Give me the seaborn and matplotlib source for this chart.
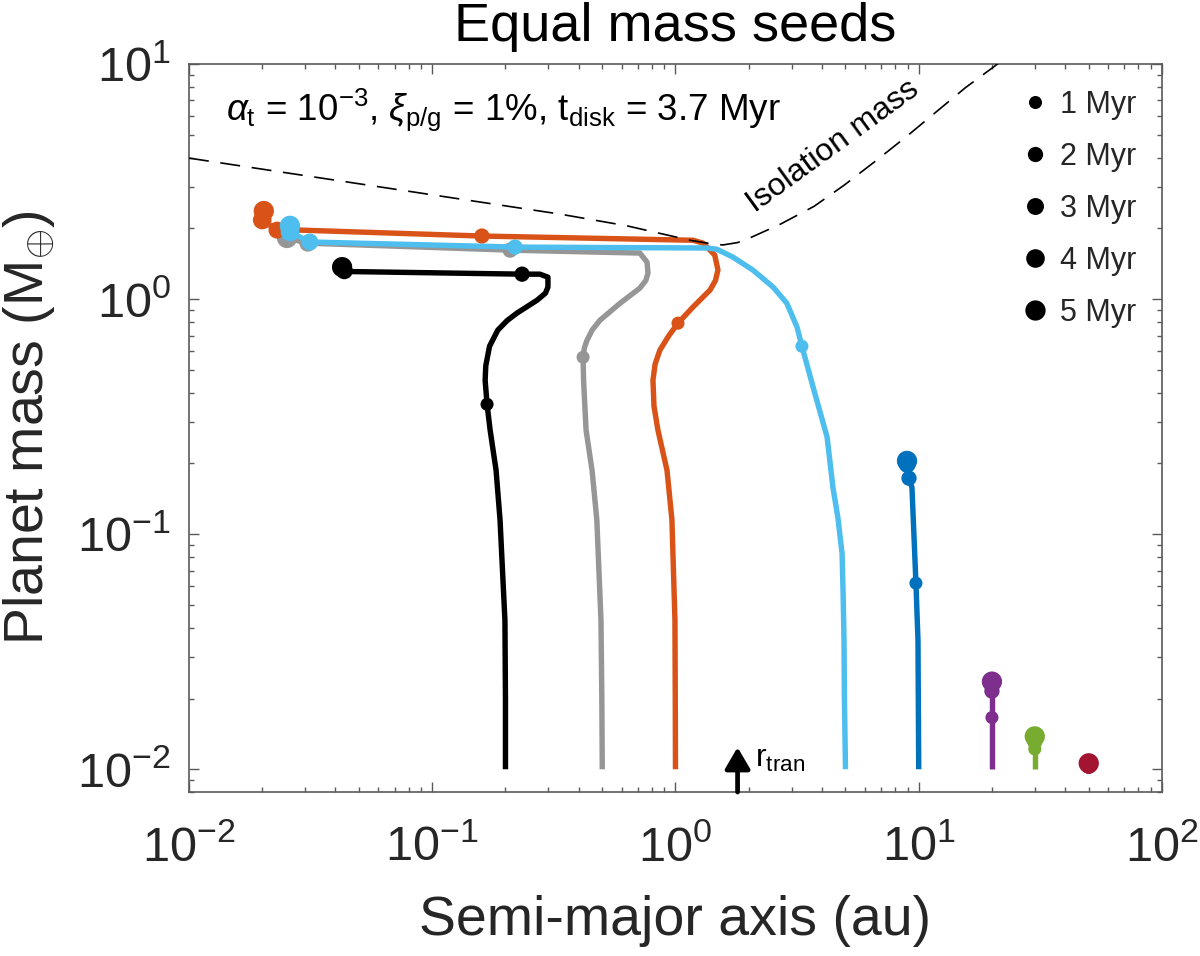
import numpy as np
import pandas as pd
import matplotlib
matplotlib.use("Agg")
import matplotlib.pyplot as plt
import seaborn as sns
from matplotlib.lines import Line2D
from matplotlib.ticker import FixedLocator, FixedFormatter, NullFormatter, LogLocator

# ---------------- data ----------------
seed_colors = ['#000000', '#969696', '#D95319', '#4DBEEE',
               '#0072BD', '#7E2F8E', '#77AC30', '#A2142F']

# growth tracks: semi-major axis (au) and mass (Earth masses)
trk_02_a = [0.200, 0.200, 0.199, 0.190, 0.183, 0.173, 0.168, 0.165, 0.166, 0.172, 0.186,
            0.203, 0.223, 0.270, 0.292, 0.299, 0.299, 0.277, 0.234, 0.046, 0.0426]
trk_02_M = [0.010, 0.020, 0.043, 0.115, 0.187, 0.277, 0.357, 0.452, 0.520, 0.630, 0.738,
            0.810, 0.872, 0.990, 1.060, 1.125, 1.240, 1.277, 1.277, 1.31, 1.368]

trk_05_a = [0.500, 0.498, 0.494, 0.475, 0.454, 0.429, 0.419, 0.417, 0.422, 0.433, 0.455, 0.490,
            0.592, 0.714, 0.755, 0.771, 0.764, 0.714, 0.209, 0.0308, 0.0253]
trk_05_M = [0.010, 0.020, 0.043, 0.115, 0.187, 0.277, 0.450, 0.566, 0.620, 0.669, 0.740, 0.814,
            0.961, 1.114, 1.200, 1.290, 1.436, 1.570, 1.616, 1.730, 1.820]

trk_1_a = [1.000, 0.998, 0.995, 0.967, 0.923, 0.847, 0.816, 0.808, 0.825, 0.863, 0.940, 1.024,
           1.180, 1.387, 1.460, 1.495, 1.450, 1.300, 1.180, 0.160, 0.0286, 0.023, 0.020, 0.0203]
trk_1_M = [0.010, 0.020, 0.043, 0.115, 0.187, 0.277, 0.350, 0.452, 0.530, 0.607, 0.700, 0.790,
           0.925, 1.093, 1.200, 1.330, 1.540, 1.730, 1.780, 1.855, 1.966, 1.966, 2.170, 2.370]

trk_5_a = [5.00, 4.95, 4.93, 4.89, 4.84, 4.65, 4.44, 4.20, 3.68, 3.31, 3.16, 2.87, 2.52,
           2.08, 1.72, 1.48, 1.35, 0.219, 0.0314, 0.026, 0.026]
trk_5_M = [0.010, 0.0197, 0.0354, 0.055, 0.083, 0.118, 0.158, 0.259, 0.422, 0.630, 0.760, 0.960,
           1.125, 1.330, 1.510, 1.630, 1.650, 1.665, 1.750, 1.930, 2.050]

trk_10_a = [10.0, 9.93, 9.74, 9.38, 9.12, 8.97, 8.95]
trk_10_M = [0.010, 0.0354, 0.0619, 0.158, 0.173, 0.198, 0.205]

trk_20_a = [20.0, 20.0, 20.0]
trk_20_M = [0.010, 0.0166, 0.0236]

trk_30_a = [30.0, 30.0, 30.0]
trk_30_M = [0.010, 0.0122, 0.0138]

trk_50_a = [50.0, 50.0]
trk_50_M = [0.010, 0.0106]

# positions at 1, 2, 3, 4, 5 Myr
times_myr = [1, 2, 3, 4, 5]
time_labels = ['1 Myr', '2 Myr', '3 Myr', '4 Myr', '5 Myr']

mk_02_a = [0.168, 0.234, 0.0435, 0.0426, 0.0426]
mk_02_M = [0.357, 1.277, 1.320, 1.368, 1.368]
mk_05_a = [0.417, 0.209, 0.0308, 0.0253, 0.0253]
mk_05_M = [0.566, 1.616, 1.730, 1.820, 1.820]
mk_1_a = [1.024, 0.160, 0.023, 0.020, 0.0203]
mk_1_M = [0.790, 1.855, 1.966, 2.170, 2.370]
mk_5_a = [3.31, 0.219, 0.0314, 0.026, 0.026]
mk_5_M = [0.630, 1.665, 1.750, 1.930, 2.050]
mk_10_a = [9.74, 9.12, 8.97, 8.95, 8.95]
mk_10_M = [0.0619, 0.173, 0.198, 0.205, 0.205]
mk_20_a = [20.0, 20.0, 20.0, 20.0, 20.0]
mk_20_M = [0.0166, 0.0215, 0.0232, 0.0236, 0.0236]
mk_30_a = [30.0, 30.0, 30.0, 30.0, 30.0]
mk_30_M = [0.0122, 0.0131, 0.0135, 0.0138, 0.0138]
mk_50_a = [50.0, 50.0, 50.0, 50.0, 50.0]
mk_50_M = [0.0102, 0.0103, 0.0105, 0.0106, 0.0106]

# isolation mass curve
iso_a = [0.01, 0.335, 0.632, 1.147, 1.40, 1.567, 1.80, 2.02, 2.69, 3.71, 4.93, 6.61,
         8.87, 11.67, 15.6, 20.4, 21.8]
iso_M = [3.98, 2.30, 2.05, 1.78, 1.72, 1.70, 1.74, 1.82, 2.08, 2.48, 3.05, 3.85,
         4.90, 6.20, 7.95, 9.75, 10.3]

r_tran = 1.8

x_ticks = [1e-2, 1e-1, 1e0, 1e1, 1e2]
x_ticklabels = [r'$10^{-2}$', r'$10^{-1}$', r'$10^{0}$', r'$10^{1}$', r'$10^{2}$']
y_ticks = [1e-2, 1e-1, 1e0, 1e1]
y_ticklabels = [r'$10^{-2}$', r'$10^{-1}$', r'$10^{0}$', r'$10^{1}$']

# ---------------- style ----------------
sns.set_theme(style='ticks')
plt.rcParams['font.family'] = ['Liberation Sans', 'DejaVu Sans']
plt.rcParams['mathtext.fontset'] = 'custom'
plt.rcParams['mathtext.rm'] = 'Liberation Sans'
plt.rcParams['mathtext.it'] = 'Liberation Sans:italic'
plt.rcParams['mathtext.bf'] = 'Liberation Sans:bold'

marker_ms = [9.4, 11.0, 12.2, 13.4, 14.6]          # diameters in points
marker_area = [m * m for m in marker_ms]
size_map = dict(zip(times_myr, marker_area))

fig = plt.figure(figsize=(12, 9.56), dpi=100)
ax = fig.add_axes([0.1575, 0.1715, 0.8108, 0.7615])
ax.set_xscale('log')
ax.set_yscale('log')

tracks_a = [trk_02_a, trk_05_a, trk_1_a, trk_5_a, trk_10_a, trk_20_a, trk_30_a, trk_50_a]
tracks_M = [trk_02_M, trk_05_M, trk_1_M, trk_5_M, trk_10_M, trk_20_M, trk_30_M, trk_50_M]
marks_a = [mk_02_a, mk_05_a, mk_1_a, mk_5_a, mk_10_a, mk_20_a, mk_30_a, mk_50_a]
marks_M = [mk_02_M, mk_05_M, mk_1_M, mk_5_M, mk_10_M, mk_20_M, mk_30_M, mk_50_M]

for i in range(len(tracks_a)):
    col = seed_colors[i]
    df_t = pd.DataFrame({'a': tracks_a[i], 'M': tracks_M[i]})
    sns.lineplot(data=df_t, x='a', y='M', sort=False, estimator=None,
                 color=col, lw=3.9, ax=ax, zorder=2 + 2 * i,
                 solid_capstyle='butt', solid_joinstyle='round', legend=False)
    df_m = pd.DataFrame({'a': marks_a[i], 'M': marks_M[i], 't': times_myr})
    sns.scatterplot(data=df_m, x='a', y='M', size='t', sizes=size_map,
                    color=col, linewidth=0, edgecolor='none', legend=False,
                    ax=ax, zorder=3 + 2 * i)

df_iso = pd.DataFrame({'a': iso_a, 'M': iso_M})
sns.lineplot(data=df_iso, x='a', y='M', sort=False, estimator=None, color='black',
             lw=1.2, dashes=False, ax=ax, zorder=30, legend=False)
ax.lines[-1].set_dashes((12, 7))

ax.set_xlim(0.01, 100)
ax.set_ylim(0.008, 10)

ax.xaxis.set_major_locator(FixedLocator(x_ticks))
ax.xaxis.set_major_formatter(FixedFormatter(x_ticklabels))
ax.yaxis.set_major_locator(FixedLocator(y_ticks))
ax.yaxis.set_major_formatter(FixedFormatter(y_ticklabels))
ax.xaxis.set_minor_locator(LogLocator(base=10, subs=np.arange(2, 10) * 1.0, numticks=100))
ax.yaxis.set_minor_locator(LogLocator(base=10, subs=np.arange(2, 10) * 1.0, numticks=100))
ax.xaxis.set_minor_formatter(NullFormatter())
ax.yaxis.set_minor_formatter(NullFormatter())

spine_col = '#5a5a5a'
for s in ax.spines.values():
    s.set_color(spine_col)
    s.set_linewidth(1.2)
ax.tick_params(which='both', direction='in', top=True, right=True,
               color=spine_col, labelcolor='#262626', width=1.0)
ax.tick_params(which='major', length=7, labelsize=35)
ax.tick_params(which='minor', length=3.6)
ax.tick_params(axis='x', which='major', pad=24)
ax.tick_params(axis='y', which='major', pad=13)

ax.set_xlabel('Semi-major axis (au)', fontsize=40, color='#262626')
ax.set_ylabel(r'Planet mass (M$_{\oplus}$)', fontsize=40, color='#262626')
ax.xaxis.set_label_coords(0.5, -0.142)
ax.yaxis.set_label_coords(-0.136, 0.5)
ax.set_title('Equal mass seeds', fontsize=39, color='black', pad=16.5)

ax.text(0.038, 0.923,
        r'$\alpha_{\mathrm{t}}$ = 10$^{-3}$, $\xi_{\mathrm{p/g}}$ = 1%, t$_{\mathrm{disk}}$ = 3.7 Myr',
        transform=ax.transAxes, fontsize=26.5, ha='left', va='baseline', color='black')

ax.text(4.44, 4.48, 'Isolation mass', fontsize=23, rotation=36, rotation_mode='anchor',
        ha='center', va='center', color='black')

ax.annotate('', xy=(r_tran, 0.0124), xytext=(r_tran, 0.008),
            arrowprops=dict(arrowstyle='-|>,head_width=0.38,head_length=0.65',
                            lw=3.4, color='black', mutation_scale=20,
                            shrinkA=0, shrinkB=0), zorder=40, annotation_clip=False)
ax.text(2.12, 0.0102, r'r$_{\mathrm{tran}}$', fontsize=23, ha='left', va='baseline',
        color='black')

handles = [Line2D([], [], ls='none', marker='o', color='black', markersize=m,
                  markeredgewidth=0) for m in marker_ms]
ax.legend(handles, time_labels, loc='upper left', bbox_to_anchor=(0.857, 0.965),
          frameon=False, fontsize=22, handlelength=0.8, handletextpad=0.42,
          labelspacing=0.72, borderpad=0, borderaxespad=0)

fig.savefig('out.png', dpi=100)
